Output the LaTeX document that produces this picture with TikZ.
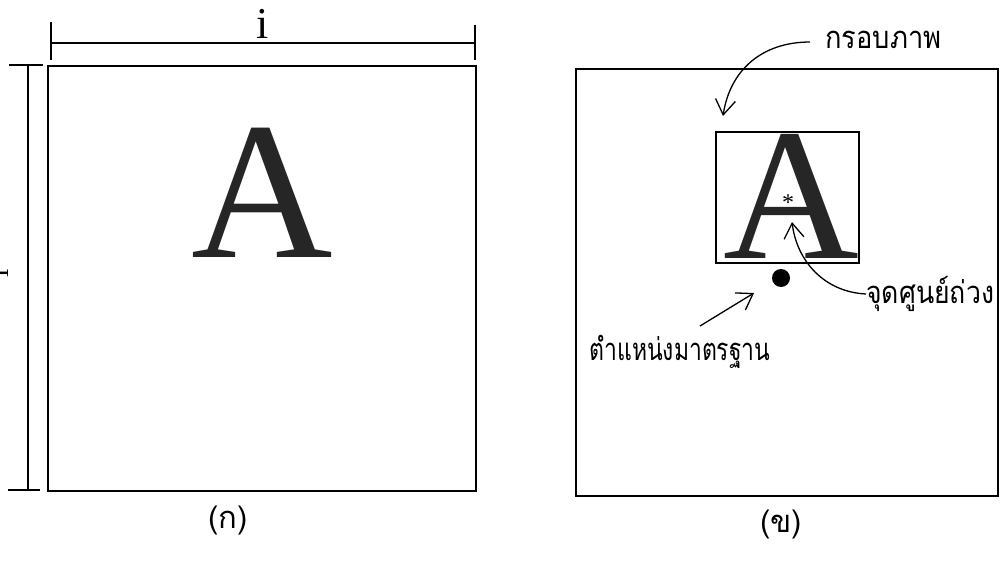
\documentclass[tikz,border=0pt]{standalone}
\usepackage{fontspec}
\usepackage{graphicx}
\setmainfont{Liberation Serif}
\newfontfamily\thaifont[Script=Thai]{Loma}
\usetikzlibrary{arrows.meta}
\tikzset{
  frame/.style={draw, line width=2.8pt},
  dimline/.style={draw, line width=1.2pt},
  bigA/.style={inner sep=0pt, anchor=base, text=black!85},
  thailbl/.style={inner sep=0pt, font=\thaifont\fontsize{31}{34}\selectfont},
  callout/.style={line width=1.3pt, -{Straight Barb[length=15pt,width=20pt,line width=1.3pt]}},
}
\begin{document}
\begin{tikzpicture}[x=1pt,y=-1pt]
\useasboundingbox (0,0) rectangle (1001,562);
% ---- left panel ----
\draw[frame] (48,66) rectangle (476,491);
\coordinate (t1) at (51,43); \coordinate (t2) at (475,43);
\draw[dimline] (t1) -- (t2);
\draw[dimline] (51,22) -- (51,60);
\draw[dimline] (475,25) -- (475,60);
\node[inner sep=0pt, anchor=base, font=\fontsize{44}{44}\selectfont] (ilab) at (263,38) {i};
\coordinate (l1) at (28,65); \coordinate (l2) at (28,490);
\draw[dimline] (l1) -- (l2);
\draw[dimline] (9,65) -- (43,65);
\draw[dimline] (8,490) -- (40,490);
\node[inner sep=0pt, anchor=base, rotate=90, font=\fontsize{30}{30}\selectfont] (ilab2) at (9,273) {i};
\node[bigA, font=\fontsize{196}{196}\selectfont] (A1) at (262,257) {A};
\node[thailbl] (cap1) at (228,520) {(ก)};
% ---- right panel ----
\draw[frame] (576,69) rectangle (998,496);
\node[draw, line width=1.1pt, minimum width=143pt, minimum height=131pt, inner sep=0pt] (box) at (787.5,197.5) {};
\node[bigA, font=\fontsize{188}{188}\selectfont] (A2) at (791,258) {A};
\node[inner sep=0pt, font=\fontsize{24}{24}\selectfont] (star) at (788,203) {*};
\fill (781,278) circle (9);
\coordinate (std) at (781,278);
\node[thailbl, anchor=west] (lblframe) at (825,40) {\scalebox{0.88}[1]{กรอบภาพ}};
\coordinate (tipframe) at (723,116);
\draw[callout] (lblframe.west) ++(-15,2) .. controls (762,42) and (730,70) .. (tipframe);
\node[thailbl, anchor=west] (lblcg) at (866,294) {\scalebox{0.86}[1]{จุดศูนย์ถ่วง}};
\coordinate (tipcg) at (792,222);
\draw[callout] (lblcg.west) .. controls (825,292) and (797,262) .. (tipcg);
\node[thailbl] (lblstd) at (680,352) {\scalebox{0.74}[1]{ตำแหน่งมาตรฐาน}};
\coordinate (tailstd) at (700,326);
\coordinate (tipstd) at (754,293);
\draw[callout] (tailstd) -- (tipstd);
\node[thailbl] (cap2) at (781,524) {(ข)};
\end{tikzpicture}
\end{document}
